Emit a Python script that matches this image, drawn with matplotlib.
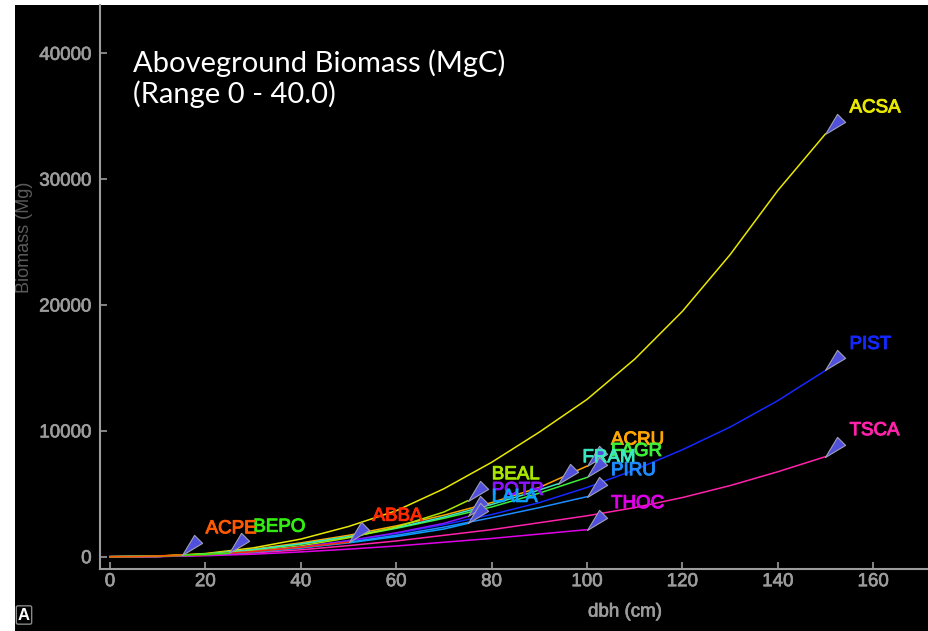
#!/usr/bin/env python3
"""
Aboveground biomass vs dbh per species (allometry curves, dark theme)
"""

import matplotlib
matplotlib.use("Agg")
import matplotlib.pyplot as plt
import matplotlib.patheffects as pe
from matplotlib.path import Path
from matplotlib.patches import Rectangle

# dbh steps (cm)
DBH_150 = [0, 10, 20, 30, 40, 50, 60, 70, 80, 90, 100, 110, 120, 130, 140, 150]
DBH_100 = [0, 10, 20, 30, 40, 50, 60, 70, 80, 90, 100]
DBH_94 = [0, 10, 20, 30, 40, 50, 60, 70, 80, 90, 94]
DBH_75 = [0, 10, 20, 30, 40, 50, 60, 70, 75]
DBH_50 = [0, 10, 20, 30, 40, 50]
DBH_25 = [0, 10, 20, 25]
DBH_15 = [0, 5, 10, 15]

# biomass (Mg)
ACSA = [0, 40, 250, 700, 1400, 2400, 3650, 5400, 7500, 9900, 12500, 15700, 19500, 24000, 29100, 33600]
PIST = [0, 20, 150, 400, 750, 1250, 1850, 2550, 3350, 4300, 5500, 6900, 8500, 10300, 12400, 14800]
TSCA = [0, 15, 120, 300, 550, 880, 1250, 1700, 2150, 2700, 3250, 3900, 4700, 5650, 6750, 7950]
ACRU = [0, 30, 220, 600, 1100, 1700, 2450, 3300, 4300, 5500, 7200]
FAGR = [0, 25, 200, 550, 1000, 1550, 2250, 3050, 3950, 5050, 6300]
FRAM = [0, 25, 200, 560, 1020, 1600, 2300, 3150, 4150, 5300, 5800]
PIRU = [0, 20, 140, 380, 700, 1150, 1700, 2350, 3100, 3900, 4770]
THOC = [0, 10, 80, 200, 380, 600, 850, 1150, 1450, 1800, 2150]
BEAL = [0, 25, 180, 450, 850, 1500, 2350, 3550, 4450]
POTR = [0, 20, 150, 400, 780, 1280, 1900, 2650, 3200]
LALA = [0, 20, 140, 370, 700, 1100, 1600, 2200, 2650]
ABBA = [0, 20, 150, 400, 750, 1150]
BEPO = [0, 50, 190, 280]
ACPE = [0, 10, 60, 150]

SPECIES = ["ACSA", "PIST", "TSCA", "ACRU", "FAGR", "FRAM", "PIRU",
           "THOC", "BEAL", "POTR", "LALA", "ABBA", "BEPO", "ACPE"]
DBH = [DBH_150, DBH_150, DBH_150, DBH_100, DBH_100, DBH_94, DBH_100,
       DBH_100, DBH_75, DBH_75, DBH_75, DBH_50, DBH_25, DBH_15]
BIOMASS = [ACSA, PIST, TSCA, ACRU, FAGR, FRAM, PIRU,
           THOC, BEAL, POTR, LALA, ABBA, BEPO, ACPE]
COLORS = ["#e8e800", "#1428ff", "#ff22aa", "#ffa500", "#3cf03c", "#3ce8c0", "#1e8cff",
          "#e000e8", "#a8e800", "#8a14ff", "#0aa0ff", "#ff2a00", "#33ee11", "#ff5a00"]

Y_TICKS = [0, 10000, 20000, 30000, 40000]
X_TICKS = [0, 20, 40, 60, 80, 100, 120, 140, 160]

GREY = "#9c9c9c"


def main():
    fig = plt.figure(figsize=(9.29, 6.31), dpi=100)
    fig.patch.set_facecolor("white")
    # black panel of the screenshot
    fig.patches.append(Rectangle((15 / 929, 0), 1 - 15 / 929, 1 - 5 / 631,
                                 transform=fig.transFigure, facecolor="black",
                                 edgecolor="none", zorder=-5))

    ax = fig.add_axes([100 / 929, 1 - 569 / 631, 1 - 100 / 929, (569 - 5) / 631])
    ax.set_facecolor("black")

    # arrow-head marker: tip sits on the end of the curve
    tri = Path([(0, 0), (0.6, 1.0), (1.0, 0.6), (0, 0)],
               [Path.MOVETO, Path.LINETO, Path.LINETO, Path.CLOSEPOLY])

    for name, xs, ys, col in zip(SPECIES, DBH, BIOMASS, COLORS):
        ax.plot(xs, ys, color=col, lw=1.1, zorder=3)
        ax.plot(xs[-1], ys[-1], marker=tri, markersize=29, color="#5050dc",
                markeredgecolor="#a0a0b4", markeredgewidth=0.8, zorder=4)
        t = ax.annotate(name, (xs[-1], ys[-1]), xytext=(17.3, 15.5),
                        textcoords="offset points", color=col, fontsize=13.5,
                        family="Liberation Sans", ha="left", va="baseline", zorder=5)
        # slightly heavier glyphs, like the original rendering
        t.set_path_effects([pe.Stroke(linewidth=0.7, foreground=col), pe.Normal()])

    ax.set_xlim(-2.1, 171.7)
    ax.set_ylim(-977, 43840)
    ax.set_xticks(X_TICKS)
    ax.set_yticks(Y_TICKS)

    for side in ["top", "right"]:
        ax.spines[side].set_visible(False)
    for side in ["left", "bottom"]:
        ax.spines[side].set_color(GREY)
        ax.spines[side].set_linewidth(1.5)

    ax.tick_params(axis="both", direction="in", length=5, width=1.2, color=GREY,
                   labelcolor=GREY, labelsize=13.5)
    ax.tick_params(axis="y", pad=6)
    ax.tick_params(axis="x", pad=3)
    for lab in ax.get_xticklabels() + ax.get_yticklabels():
        lab.set_family("Liberation Sans")
        lab.set_path_effects([pe.Stroke(linewidth=0.5, foreground=GREY), pe.Normal()])

    fig.text(625 / 929, 1 - 612 / 631, "dbh (cm)", color=GREY, fontsize=13.5,
             family="Liberation Sans", ha="center", va="center",
             path_effects=[pe.Stroke(linewidth=0.5, foreground=GREY), pe.Normal()])
    fig.text(25 / 929, 1 - 237 / 631, "Biomass (Mg)", color="#5a5a5a", fontsize=13,
             family="Liberation Sans", rotation=90, ha="center", va="center")

    # overlay title (baseline of the second line)
    fig.text(133 / 929, 1 - 103 / 631, "Aboveground Biomass (MgC)\n(Range 0 - 40.0)",
             color="white", fontsize=21, family="Lato", ha="left", va="baseline",
             linespacing=1.15)

    # little "A" badge bottom-left
    fig.text(24 / 929, 1 - 615 / 631, "A", color="white", fontsize=12,
             family="Liberation Sans", fontweight="bold", ha="center", va="center",
             bbox=dict(boxstyle="round,pad=0.1", facecolor="black", edgecolor="#888888",
                       linewidth=1))

    fig.savefig("out.png", dpi=100, facecolor=fig.get_facecolor())


if __name__ == "__main__":
    main()
